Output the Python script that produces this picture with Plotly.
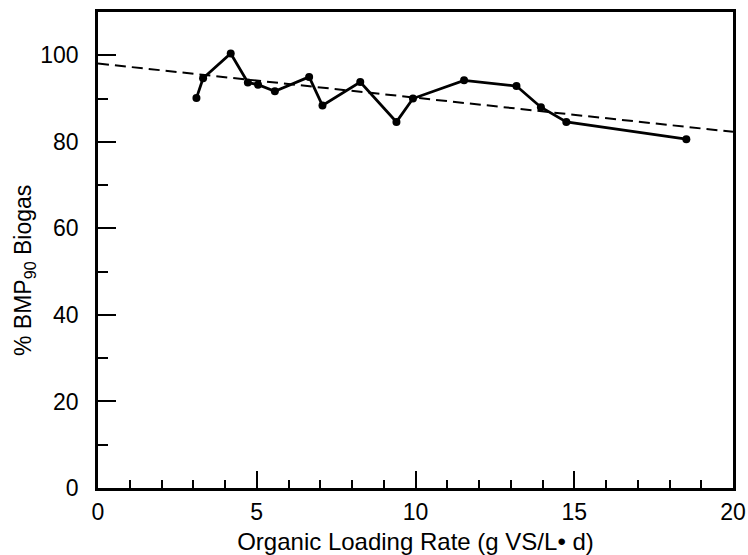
import plotly.graph_objects as go

x_vals = [3.10, 3.31, 4.18, 4.72, 5.04, 5.57, 6.65, 7.07, 8.26, 9.40, 9.92, 11.53, 13.18, 13.95, 14.75, 18.53]
y_vals = [90.1, 94.7, 100.4, 93.7, 93.2, 91.7, 95.0, 88.4, 93.8, 84.6, 90.0, 94.2, 92.9, 88.0, 84.6, 80.6]
fit_x = [0, 20]
fit_y = [98.1, 82.3]

fig = go.Figure()
fig.add_trace(go.Scatter(x=fit_x, y=fit_y, mode="lines",
                         line=dict(color="black", width=2, dash="11px,6px"),
                         showlegend=False))
fig.add_trace(go.Scatter(x=x_vals, y=y_vals, mode="lines+markers",
                         line=dict(color="black", width=2.8),
                         marker=dict(color="black", size=8),
                         showlegend=False))

font = "Liberation Sans, Arial, Helvetica, sans-serif"
fig.update_layout(
    template="none",
    width=748, height=555,
    margin=dict(l=98, r=15, t=12, b=67),
    paper_bgcolor="white", plot_bgcolor="white",
    font=dict(family=font, color="black"),
    xaxis=dict(range=[0, 20], tickvals=[0, 5, 10, 15, 20], ticks="inside",
               ticklen=17, tickwidth=2, tickcolor="black",
               showline=True, linewidth=2.5, linecolor="black", mirror=True,
               showgrid=False, zeroline=False,
               tickfont=dict(size=23, color="black"),
               ticklabelstandoff=2,
               minor=dict(dtick=1, ticks="inside", ticklen=8, tickwidth=2, tickcolor="black", showgrid=False),
               title=dict(text="Organic Loading Rate (g VS/L• d)", font=dict(size=24, color="black"), standoff=10)),
    yaxis=dict(range=[0, 110], tickvals=[0, 20, 40, 60, 80, 100], ticks="inside",
               ticklen=18, tickwidth=2, tickcolor="black",
               showline=True, linewidth=2.5, linecolor="black", mirror=True,
               showgrid=False, zeroline=False,
               tickfont=dict(size=23, color="black"),
               ticklabelstandoff=12,
               minor=dict(dtick=10, ticks="inside", ticklen=10, tickwidth=2, tickcolor="black", showgrid=False)),
    annotations=[dict(text="% BMP<sub>90</sub> Biogas", textangle=-90,
                      xref="paper", yref="paper", x=-0.115, y=0.458,
                      xanchor="center", yanchor="middle", showarrow=False,
                      font=dict(size=23, color="black", family=font))],
)
fig.write_html("out.html")
